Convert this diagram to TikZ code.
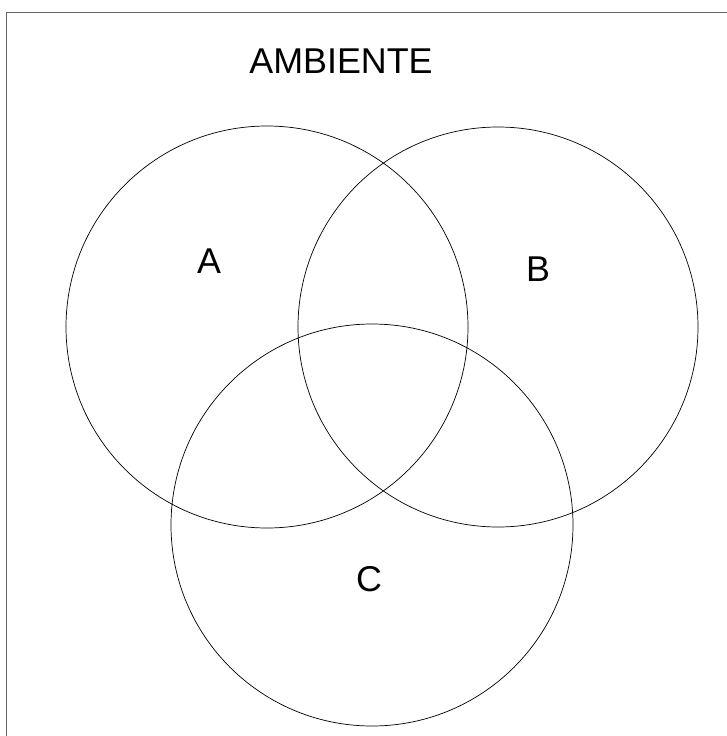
\documentclass[tikz,border=0pt]{standalone}
\usepackage{fontspec}
\setmainfont{Liberation Sans}
\usetikzlibrary{calc}

\begin{document}
\begin{tikzpicture}[x=0.025cm,y=-0.025cm,
  every node/.style={inner sep=0pt,anchor=base,font=\fontsize{25.5}{30}\selectfont},
  set/.style={draw,line width=0.5pt}]
  \useasboundingbox (0,0) rectangle (727,736);
  \draw[gray!80!black,line width=0.7pt] (6,736) -- (6,12) -- (727,12);
  \path (341,73) node (amb) {AMBIENTE};
  \draw[set] (267,327) circle (201) (498,327) circle (200) (372,525) circle (201);
  \path (209,273) node (la) {A} (538,281) node (lb) {B} (369,591) node (lc) {C};
\end{tikzpicture}
\end{document}
